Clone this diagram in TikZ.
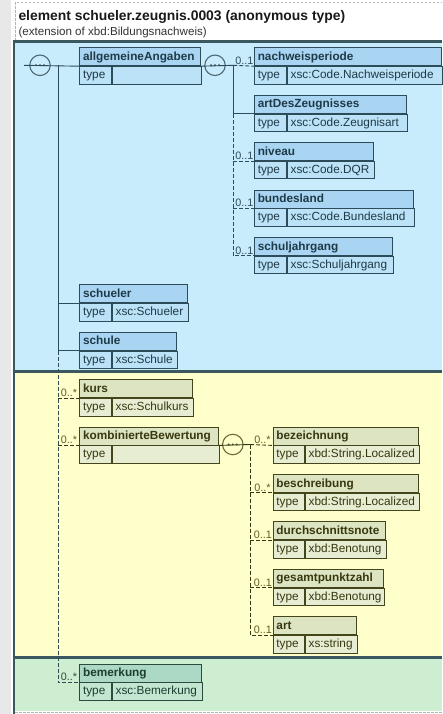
\documentclass[tikz,border=0pt]{standalone}
\usepackage{fontspec}
\setmainfont{Liberation Sans}
\definecolor{bluebg}{HTML}{C8ECFB}
\definecolor{bluehd}{HTML}{A9D5F3}
\definecolor{bluerw}{HTML}{BCE2F7}
\definecolor{bluedk}{HTML}{2C4C59}
\definecolor{bluetx}{HTML}{1E3A47}
\definecolor{yelbg}{HTML}{FFFFCC}
\definecolor{yelhd}{HTML}{DDE4C2}
\definecolor{yelrw}{HTML}{E7EDD3}
\definecolor{yeldk}{HTML}{45451C}
\definecolor{yeltx}{HTML}{38380F}
\definecolor{yellb}{HTML}{5E5E22}
\definecolor{grnbg}{HTML}{CDEED0}
\definecolor{grnhd}{HTML}{ACD9C6}
\definecolor{grnrw}{HTML}{C2E6D0}
\definecolor{grndk}{HTML}{2C4B3C}
\definecolor{grntx}{HTML}{1E3D30}
\definecolor{panelbd}{HTML}{3B575F}
\definecolor{outer}{HTML}{B4B4B4}
\definecolor{strip}{HTML}{E8E8E8}
\definecolor{seqb}{HTML}{4E6974}
\definecolor{seqy}{HTML}{6B6B3C}
\newcommand\xsdbox[9]{%
  \pgfmathsetmacro\bw{#4-#2-6.6}%
  \pgfmathsetmacro\tw{#5-#2-6.6}%
  \pgfmathsetmacro\vw{#4-#5-6.6}%
  \node[hdr,#8hd,text width=\bw pt] (#1) at (#2,#3) {#6};
  \node[trow,#8rw,text width=\tw pt] (#1-t) at (#1.south west) {type};
  \node[trow,#8rw,text width=\vw pt] (#1-v) at (#1-t.north east) {#7};
  #9%
}
\begin{document}
\begin{tikzpicture}[x=1pt,y=-1pt,
  hdr/.style={draw, anchor=north west, inner xsep=3.3pt, inner ysep=0pt,
    text height=12.8pt, text depth=5.2pt, align=left, line width=0.9pt,
    font=\fontsize{11.8}{13}\selectfont\bfseries},
  trow/.style={draw, anchor=north west, inner xsep=3.3pt, inner ysep=0pt,
    text height=12pt, text depth=5.5pt, align=left, line width=0.9pt,
    font=\fontsize{11.8}{13}\selectfont},
  bhd/.style={fill=bluehd, draw=bluedk, text=bluetx},
  brw/.style={fill=bluerw, draw=bluedk, text=bluetx},
  yhd/.style={fill=yelhd, draw=yeldk, text=yeltx},
  yrw/.style={fill=yelrw, draw=yeldk, text=yeltx},
  ghd/.style={fill=grnhd, draw=grndk, text=grntx},
  grw/.style={fill=grnrw, draw=grndk, text=grntx},
  cb/.style={draw=bluedk, line width=0.9pt},
  cy/.style={draw=yeldk!80!black, line width=0.9pt},
  cg/.style={draw=grndk, line width=0.9pt},
  dsh/.style={dash pattern=on 4pt off 2pt},
  seqcirc/.style={circle, line width=1.1pt, minimum size=20.5pt, inner sep=0pt},
  lbl/.style={anchor=base east, inner sep=0pt, font=\fontsize{10.8}{12}\selectfont},
]
\useasboundingbox (0,0) rectangle (442,714);
% background strip and outer frame
\fill[strip] (0,0) rectangle (10.5,714);
\fill[white] (10.5,0) rectangle (442,714);
\fill[bluebg] (14,41.3) rectangle (442,371.7);
\fill[yelbg] (14,371.7) rectangle (442,657.5);
\fill[grnbg] (14,657.5) rectangle (442,711);
\draw[outer, line width=0.8pt, dash pattern=on 2.5pt off 1.5pt] (15,41) -- (15,2.7) -- (442,2.7);
\draw[outer, line width=0.8pt, dash pattern=on 2.5pt off 1.5pt] (15,712.3) -- (442,712.3);
\draw[panelbd, line width=2.6pt] (14,714) -- (14,41.3) -- (442,41.3);
\draw[panelbd, line width=2.8pt] (12.7,371.7) -- (442,371.7);
\draw[panelbd, line width=2.8pt] (12.7,657.5) -- (442,657.5);
% title
\node[anchor=base west, inner sep=0pt, font=\fontsize{13.9}{16}\selectfont\bfseries, text=black!90] (title) at (18.3,20.7) {element schueler.zeugnis.0003 (anonymous type)};
\node[anchor=base west, inner sep=0pt, font=\fontsize{11.6}{13}\selectfont, text=black!80] (subtitle) at (18.3,36) {(extension of xbd:Bildungsnachweis)};
% boxes
\xsdbox{allg}{79.3}{47.3}{200}{111}{allgemeineAngaben}{}{b}{}
\xsdbox{schueler}{79.3}{284.3}{187.3}{111}{schueler}{xsc:Schueler}{b}{}
\xsdbox{schule}{79.3}{331.7}{175.7}{111}{schule}{xsc:Schule}{b}{}
\xsdbox{nachw}{254}{47.3}{441}{286}{nachweisperiode}{xsc:Code.Nachweisperiode}{b}{}
\xsdbox{artD}{254}{94.7}{406}{286}{artDesZeugnisses}{xsc:Code.Zeugnisart}{b}{}
\xsdbox{niveau}{254}{142.1}{373.3}{286}{niveau}{xsc:Code.DQR}{b}{}
\xsdbox{bundes}{254}{189.5}{412.7}{286}{bundesland}{xsc:Code.Bundesland}{b}{}
\xsdbox{schulj}{254}{236.9}{392.3}{286}{schuljahrgang}{xsc:Schuljahrgang}{b}{}
\xsdbox{kurs}{79.3}{379.1}{191.7}{111}{kurs}{xsc:Schulkurs}{y}{}
\xsdbox{komb}{79.3}{426.5}{218.3}{111}{kombinierteBewertung}{}{y}{}
\xsdbox{bez}{272.7}{426.5}{417.7}{304}{bezeichnung}{xbd:String.Localized}{y}{}
\xsdbox{beschr}{272.7}{473.9}{417.7}{304}{beschreibung}{xbd:String.Localized}{y}{}
\xsdbox{durch}{272.7}{521.3}{385}{304}{durchschnittsnote}{xbd:Benotung}{y}{}
\xsdbox{gesamt}{272.7}{568.7}{383.3}{304}{gesamtpunktzahl}{xbd:Benotung}{y}{}
\xsdbox{art}{272.7}{616.1}{355.7}{304}{art}{xs:string}{y}{}
\xsdbox{bem}{79.3}{663.5}{201}{111}{bemerkung}{xsc:Bemerkung}{g}{}
% coordinates of connector junctions
\coordinate (s1in) at (24,65.3);
\coordinate (v1) at (58,65.3);
\coordinate (v2) at (233.3,65.3);
\coordinate (v3) at (250,444.5);
% sequence symbols
\node[seqcirc, draw=seqb] (seq1) at (40,65.3) {};
\node[seqcirc, draw=seqb] (seq2) at (215,65.3) {};
\node[seqcirc, draw=seqy] (seq3) at (232.8,444.5) {};
% main sequence connectors
\draw[cb] (s1in) -- (allg.south west);
\draw[cb] (v1) |- (schule.south west);
\draw[cb] (v1 |- schueler.south west) -- (schueler.south west);
\draw[cy, draw=panelbd!85!black, dsh] (v1 |- schule.south west) -- (v1 |- bem.south west) -- (bem.south west);
\draw[cy, dsh] (v1 |- kurs.south west) -- (kurs.south west);
\draw[cy, dsh] (v1 |- komb.south west) -- (komb.south west);
% allgemeineAngaben sequence
\draw[cb] (allg.south east) -- (v2);
\draw[cb, dsh] (v2) -- (nachw.south west);
\draw[cb] (v2) |- (artD.south west);
\draw[cb, dsh] (v2 |- artD.south west) -- (v2 |- schulj.south west) -- (schulj.south west);
\draw[cb, dsh] (v2 |- niveau.south west) -- (niveau.south west);
\draw[cb, dsh] (v2 |- bundes.south west) -- (bundes.south west);
% kombinierteBewertung sequence
\draw[cy] (komb.south east) -- (v3);
\draw[cy, dsh] (v3) -- (v3 |- art.south west) -- (art.south west);
\draw[cy, dsh] (v3) -- (bez.south west);
\draw[cy, dsh] (v3 |- beschr.south west) -- (beschr.south west);
\draw[cy, dsh] (v3 |- durch.south west) -- (durch.south west);
\draw[cy, dsh] (v3 |- gesamt.south west) -- (gesamt.south west);
% dots of the sequence symbols
\foreach \s/\c in {seq1/seqb, seq2/seqb, seq3/seqy}{
  \foreach \dx in {-4,0,4}{
    \fill[\c!70!black] ([xshift=\dx pt]\s.center) circle (1.1pt);
  }
}
% occurrence labels
\node[lbl, text=bluedk] (l-nachw) at ([xshift=-0.5pt,yshift=1.6pt]nachw.south west) {0..1};
\node[lbl, text=bluedk] (l-niveau) at ([xshift=-0.5pt,yshift=1.6pt]niveau.south west) {0..1};
\node[lbl, text=bluedk] (l-bundes) at ([xshift=-0.5pt,yshift=1.6pt]bundes.south west) {0..1};
\node[lbl, text=bluedk] (l-schulj) at ([xshift=-0.5pt,yshift=1.6pt]schulj.south west) {0..1};
\node[lbl, text=yellb] (l-kurs) at ([xshift=-2pt,yshift=1.6pt]kurs.south west) {0..*};
\node[lbl, text=yellb] (l-komb) at ([xshift=-2pt,yshift=1.6pt]komb.south west) {0..*};
\node[lbl, text=yellb] (l-bez) at ([xshift=-2pt,yshift=1.6pt]bez.south west) {0..*};
\node[lbl, text=yellb] (l-beschr) at ([xshift=-2pt,yshift=1.6pt]beschr.south west) {0..*};
\node[lbl, text=yellb] (l-durch) at ([xshift=-0.5pt,yshift=1.6pt]durch.south west) {0..1};
\node[lbl, text=yellb] (l-gesamt) at ([xshift=-0.5pt,yshift=1.6pt]gesamt.south west) {0..1};
\node[lbl, text=yellb] (l-art) at ([xshift=-0.5pt,yshift=1.6pt]art.south west) {0..1};
\node[lbl, text=grndk] (l-bem) at ([xshift=-2pt,yshift=1.6pt]bem.south west) {0..*};
\end{tikzpicture}
\end{document}
